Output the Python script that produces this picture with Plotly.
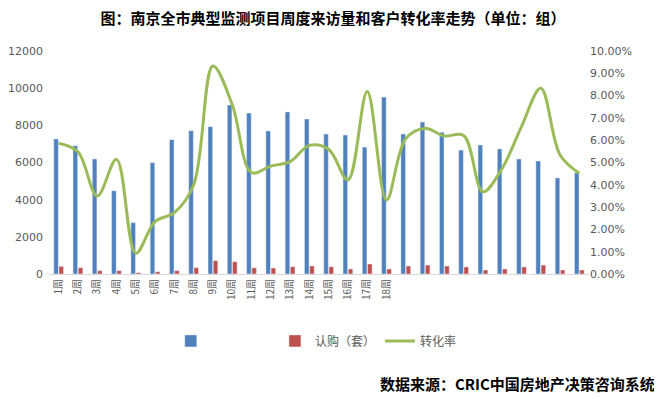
import plotly.graph_objects as go

weeks = ["1周", "2周", "3周", "4周", "5周", "6周", "7周", "8周", "9周", "10周",
         "11周", "12周", "13周", "14周", "15周", "16周", "17周", "18周", "19周", "20周",
         "21周", "22周", "23周", "24周", "25周", "26周", "27周", "28周"]
tick_labels = ["1周", "2周", "3周", "4周", "5周", "6周", "7周", "8周", "9周", "10周",
               "11周", "12周", "13周", "14周", "15周", "16周", "17周", "18周",
               "", "", "", "", "", "", "", "", "", ""]
visits = [7270, 6900, 6190, 4480, 2760, 5990, 7230, 7710, 7930, 9090,
          8660, 7700, 8720, 8340, 7530, 7480, 6830, 9520, 7530, 8180,
          7630, 6670, 6940, 6730, 6190, 6080, 5170, 5450]
subs = [410, 340, 180, 180, 70, 120, 180, 340, 720, 660,
        330, 320, 390, 430, 390, 270, 540, 270, 430, 480,
        430, 380, 215, 270, 380, 480, 215, 215]
rate = [0.0586, 0.0548, 0.0350, 0.0514, 0.0093, 0.0235, 0.0275, 0.0399, 0.0933, 0.0760,
        0.0455, 0.0484, 0.0504, 0.0577, 0.0559, 0.0422, 0.0818, 0.0332, 0.0608, 0.0653,
        0.0619, 0.0621, 0.0369, 0.0474, 0.0661, 0.0833, 0.0534, 0.0452]

fig = go.Figure()
fig.add_trace(go.Bar(x=weeks, y=visits, name="\u00a0" * 22, marker_color="#4F81BD"))
fig.add_trace(go.Bar(x=weeks, y=subs, name="认购（套）", marker_color="#C0504D"))
fig.add_trace(go.Scatter(x=weeks, y=rate, name="转化率", yaxis="y2", mode="lines",
                         line=dict(color="#9BBB59", width=3, shape="spline", smoothing=1.0)))

tick_font = dict(family="DejaVu Sans, Noto Sans CJK SC", size=11, color="#595959")
fig.update_layout(
    width=654, height=391,
    margin=dict(l=41, r=73, t=43, b=125),
    paper_bgcolor="white", plot_bgcolor="white",
    barmode="group", bargap=0.46, bargroupgap=0.12,
    title=dict(text="<b>图：南京全市典型监测项目周度来访量和客户转化率走势（单位：组）</b>",
               x=0.497, xanchor="center", y=0.985, yanchor="top",
               font=dict(family="Noto Sans CJK SC", size=15, color="#000000")),
    xaxis=dict(tickmode="array", tickvals=weeks, ticktext=tick_labels, tickangle=-90,
               tickfont=dict(family="Noto Sans CJK SC", size=10, color="#595959"),
               showline=True, linecolor="#D9D9D9", linewidth=1, showgrid=False, ticks="",
               automargin=False),
    yaxis=dict(range=[0, 12000], dtick=2000, showgrid=False, zeroline=False,
               tickfont=tick_font, ticks="", showline=False, tickformat="d",
               ticklabelstandoff=5, automargin=False),
    yaxis2=dict(range=[0, 0.10], dtick=0.01, tickformat=".2%", overlaying="y", side="right",
                showgrid=False, zeroline=False, tickfont=tick_font, ticks="", showline=False,
                automargin=False),
    legend=dict(orientation="h", x=0.495, xanchor="center", y=-0.30, yanchor="middle",
                font=dict(family="Noto Sans CJK SC", size=12, color="#595959"),
                itemwidth=30, traceorder="normal"),
    annotations=[dict(text="<b>数据来源：CRIC中国房地产决策咨询系统</b>", xref="paper", yref="paper",
                      x=1.125, xanchor="right", y=-0.49, yanchor="middle", showarrow=False,
                      font=dict(family="Noto Sans CJK SC", size=15, color="#000000"))],
)
fig.write_html("out.html")
